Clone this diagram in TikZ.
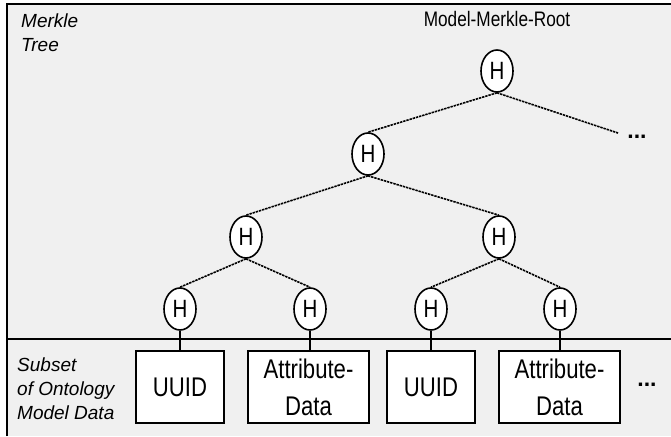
\documentclass[tikz,border=0pt]{standalone}
\usepackage{fontspec}
\setmainfont{Liberation Sans}
\newfontfamily\narrowsf[FakeStretch=0.82]{Liberation Sans}
\usetikzlibrary{shapes.geometric}
\definecolor{panelgray}{RGB}{240,240,240}
\tikzset{
  hashnode/.style={ellipse, draw=black, line width=1.6pt, fill=white,
    minimum width=32pt, minimum height=42pt, inner sep=0pt,
    font=\narrowsf\fontsize{25}{25}\selectfont},
  link/.style={line width=1.6pt, dash pattern=on 2.4pt off 0.9pt},
  leaf/.style={line width=1.4pt},
  databox/.style={draw=black, line width=1.9pt, fill=white,
    minimum height=72pt, inner sep=0pt, align=center,
    font=\narrowsf\fontsize{27}{37}\selectfont},
  tag/.style={font=\itshape\fontsize{19}{24}\selectfont, align=left,
    anchor=north west, inner sep=0pt},
  dots/.style={font=\bfseries\fontsize{23}{23}\selectfont, inner sep=0pt}
}
\begin{document}
\begin{tikzpicture}[x=1pt,y=-1pt]
\useasboundingbox (0,0) rectangle (671,436);
\fill[white] (0,0) rectangle (671,436);
\fill[panelgray] (7,4) rectangle (671,436);
% frame and the line between tree and data
\draw[line width=2.2pt] (7,436) -- (7,4) -- (671,4);
\draw[line width=2pt] (7,339) -- (671,339);

% side labels
\node[tag] (treelabel) at (21,14) {Merkle\\Tree};
\node[tag] (datalabel) at (17,358) {Subset\\of Ontology\\Model Data};
\node[font=\narrowsf\fontsize{21}{21}\selectfont, anchor=base, inner sep=0pt]
  (rootlabel) at (497,27) {Model-Merkle-Root};

% hash nodes
\node[hashnode] (root) at (497,71) {H};
\node[hashnode] (h1) at (368,154) {H};
\node[hashnode] (h11) at (246,237) {H};
\node[hashnode] (h12) at (499,237) {H};
\node[hashnode] (ha) at (180,309) {H};
\node[hashnode] (hb) at (310,309) {H};
\node[hashnode] (hc) at (431,309) {H};
\node[hashnode] (hd) at (560,309) {H};

% data items
\node[databox, minimum width=88pt] (d1) at (180,387) {UUID};
\node[databox, minimum width=121pt] (d2) at (308.5,387) {Attribute-\\Data};
\node[databox, minimum width=88pt] (d3) at (431,387) {UUID};
\node[databox, minimum width=121pt] (d4) at (559.5,387) {Attribute-\\Data};

% continuation marks
\coordinate (more) at (618,133);
\node[dots] (moredots) at (637,137) {...};
\node[dots] (moredata) at (647,385) {...};

% tree edges
\draw[link] (root.south) -- (h1.north);
\draw[link] (root.south) -- (more);
\draw[link] (h1.south) -- (h11.north);
\draw[link] (h1.south) -- (h12.north);
\draw[link] (h11.south) -- (ha.north);
\draw[link] (h11.south) -- (hb.north);
\draw[link] (h12.south) -- (hc.north);
\draw[link] (h12.south) -- (hd.north);

% leaf hashes to their data
\draw[leaf] (ha.south) -- (ha.south |- d1.north);
\draw[leaf] (hb.south) -- (hb.south |- d2.north);
\draw[leaf] (hc.south) -- (hc.south |- d3.north);
\draw[leaf] (hd.south) -- (hd.south |- d4.north);
\end{tikzpicture}
\end{document}
